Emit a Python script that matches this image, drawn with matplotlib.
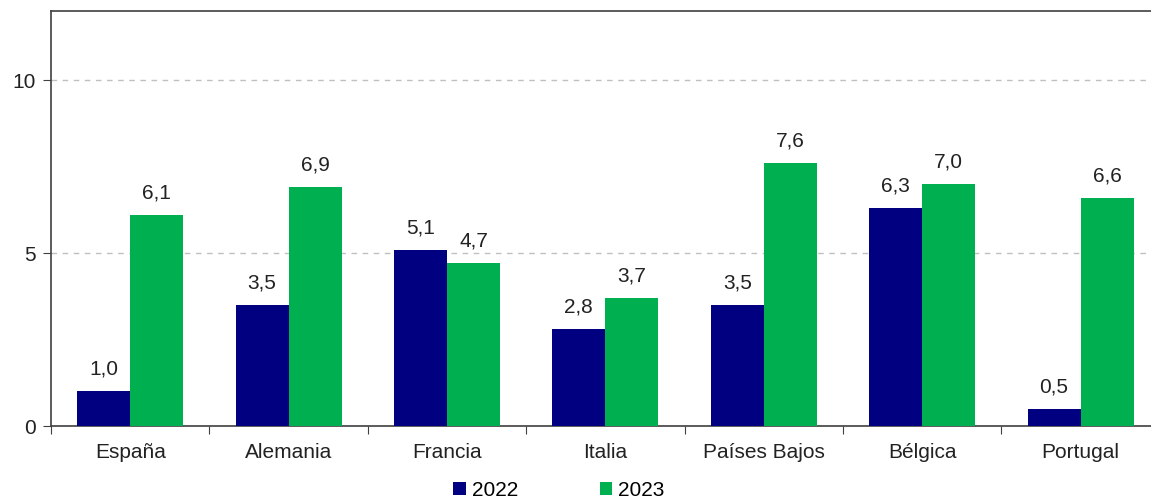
import numpy as np
import matplotlib.pyplot as plt

plt.rcParams['font.family'] = ['Liberation Sans', 'DejaVu Sans']

paises = ['España', 'Alemania', 'Francia', 'Italia', 'Países Bajos', 'Bélgica', 'Portugal']
v2022 = [1.0, 3.5, 5.1, 2.8, 3.5, 6.3, 0.5]
v2023 = [6.1, 6.9, 4.7, 3.7, 7.6, 7.0, 6.6]

c2022 = '#000080'
c2023 = '#00b050'
axis_col = '#404040'
txt_col = '#222222'
fs = 15

fig = plt.figure(figsize=(11.51, 4.99), dpi=100)
ax = fig.add_axes([51 / 1151, 1 - 426 / 499, 158.4 * 7 / 1151, 415 / 499])

x = np.arange(len(paises))
w = 0.335
b1 = ax.bar(x - w / 2, v2022, w, color=c2022, label='2022', zorder=3)
b2 = ax.bar(x + w / 2, v2023, w, color=c2023, label='2023', zorder=3)

for bars, vals in ((b1, v2022), (b2, v2023)):
    for r, v in zip(bars, vals):
        ax.annotate(f'{v:.1f}'.replace('.', ','),
                    (r.get_x() + r.get_width() / 2, v),
                    xytext=(0, 9), textcoords='offset points',
                    ha='center', va='bottom', fontsize=fs, color=txt_col)

ax.set_xlim(-0.5, len(paises) - 0.5)
ax.set_ylim(0, 12)
ax.set_yticks([0, 5, 10])
ax.yaxis.grid(True, linestyle=(0, (4, 4)), color='#c0c0c0', linewidth=1)
ax.set_axisbelow(True)

# ticks between categories, labels centred
ax.set_xticks(np.arange(len(paises) + 1) - 0.5)
ax.set_xticklabels([])
ax.set_xticks(x, minor=True)
ax.set_xticklabels(paises, minor=True)
ax.tick_params(axis='x', which='minor', length=0, pad=12, labelsize=fs, labelcolor=txt_col)
ax.tick_params(axis='x', which='major', length=6, color=axis_col, direction='out')
ax.tick_params(axis='y', length=6, color=axis_col, labelsize=fs, labelcolor=txt_col, pad=5)

for s in ('left', 'top', 'bottom'):
    ax.spines[s].set_color(axis_col)
    ax.spines[s].set_linewidth(1.2)
ax.spines['right'].set_visible(False)

fig.legend(handles=[b1, b2], loc='center', bbox_to_anchor=(559 / 1151, 1 - 490 / 499),
           ncol=2, frameon=False, fontsize=fs, handlelength=0.6, handleheight=0.6,
           handletextpad=0.3, columnspacing=3.9, borderpad=0)

fig.savefig('out.png', dpi=100)
